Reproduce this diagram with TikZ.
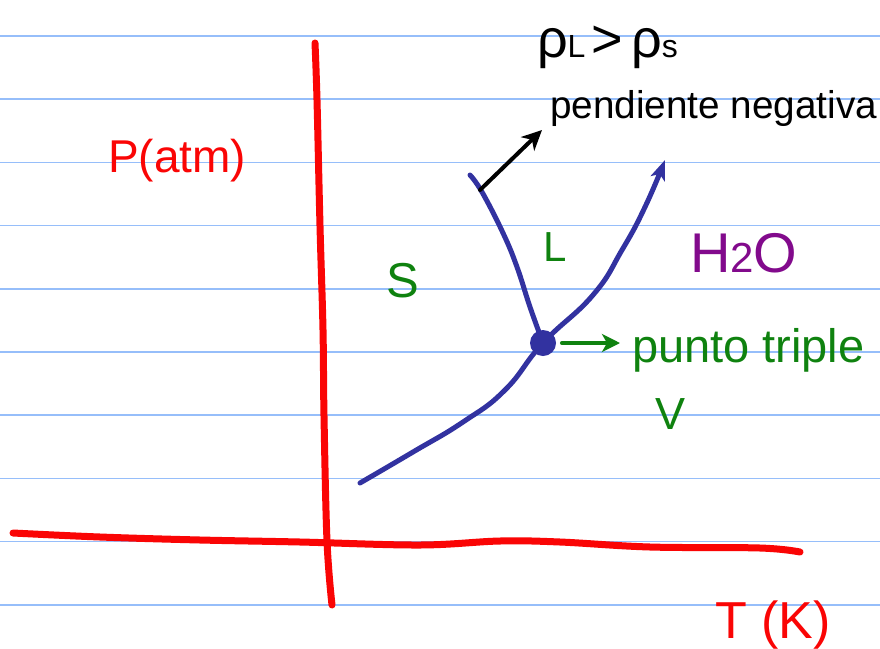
\documentclass[tikz,border=0pt]{standalone}
\usepackage{fontspec}
\setmainfont{Liberation Sans}
\usetikzlibrary{arrows.meta}
\definecolor{paperline}{RGB}{150,190,250}
\definecolor{axred}{RGB}{250,5,5}
\definecolor{curveblue}{RGB}{50,50,160}
\definecolor{labgreen}{RGB}{15,130,15}
\definecolor{hpurple}{RGB}{130,10,140}
\begin{document}
\begin{tikzpicture}[x=1pt,y=-1pt,
  ruled/.style={paperline,line width=1.6pt},
  axisline/.style={axred,line width=7pt,line cap=round,line join=round},
  phase/.style={curveblue,line width=5pt,line cap=round,line join=round},
  blackarrow/.style={black,line width=4pt,line cap=round,-{Stealth[length=20pt,width=19pt,inset=6pt]}},
  greenarrow/.style={labgreen,line width=4.5pt,line cap=round,-{Stealth[length=18pt,width=18pt,inset=5pt]}},
  lab/.style={inner sep=0pt,outer sep=0pt},
  tpdot/.style={circle,fill=curveblue,minimum size=26pt,inner sep=0pt},
  fs/.style={font=\fontsize{#1}{#1}\selectfont}]
\useasboundingbox (0,0) rectangle (880,648);
\fill[white] (0,0) rectangle (880,648);
% ruled paper
\foreach \i in {0,...,9} {
  \draw[ruled] (0,36+63.2*\i) -- (880,36+63.2*\i);
}
% axes
\draw[axisline] plot[smooth,tension=0.6] coordinates {(315,43) (317,100) (320,226) (323,330) (324,416) (327,541) (332,605)};
\draw[axisline] plot[smooth,tension=0.6] coordinates {(13,533) (100,537) (200,540) (300,542) (420,545) (500,541) (560,542) (650,547) (760,548) (800,552)};
% triple point
\node[tpdot] (tp) at (543,343) {};
% vaporisation / sublimation curve
\draw[phase,-{Stealth[length=20pt,width=15pt,inset=5pt]}] plot[smooth,tension=0.8] coordinates {(360,483) (413,452) (463,422) (505,390) (543,343) (593,295) (622,250) (645,207) (665,160)};
% fusion curve
\draw[phase] plot[smooth,tension=0.7] coordinates {(470,175) (482,192) (503,233) (517,267) (530,307) (543,343)};
% labels
\node[lab,fs=46,text=axred,anchor=base west] (patm) at (108,172) {P(atm)};
\node[lab,fs=52,text=axred,anchor=base west] (tk) at (715,638) {T (K)};
\node[lab,fs=49,text=labgreen] (sol) at (403,281) {S};
\node[lab,fs=42,text=labgreen] (liq) at (555,247) {L};
\node[lab,fs=45,text=labgreen] (vap) at (670,414) {V};
\node[lab,fs=56,text=hpurple,anchor=base west] (h2o) at (690,272) {H{\fontsize{42}{42}\selectfont 2}O};
\node[lab,fs=47,text=labgreen,anchor=base west] (punto) at (632,362) {punto triple};
\node[lab,fs=38.7,anchor=base west] (pend) at (550,118) {pendiente negativa};
\node[lab,fs=54,anchor=base west] (rho) at (537,57) {ρ{\fontsize{32}{32}\selectfont L}\hspace{6pt}>\hspace{8pt}ρ{\fontsize{32}{32}\selectfont s}};
% arrows
\coordinate (slope) at (480,190);
\coordinate (pendtip) at (542,130);
\draw[blackarrow] (slope) -- (pendtip);
\draw[greenarrow] ([xshift=6pt]tp.east) -- ([xshift=-12pt]tp.east -| punto.west);
\end{tikzpicture}
\end{document}
